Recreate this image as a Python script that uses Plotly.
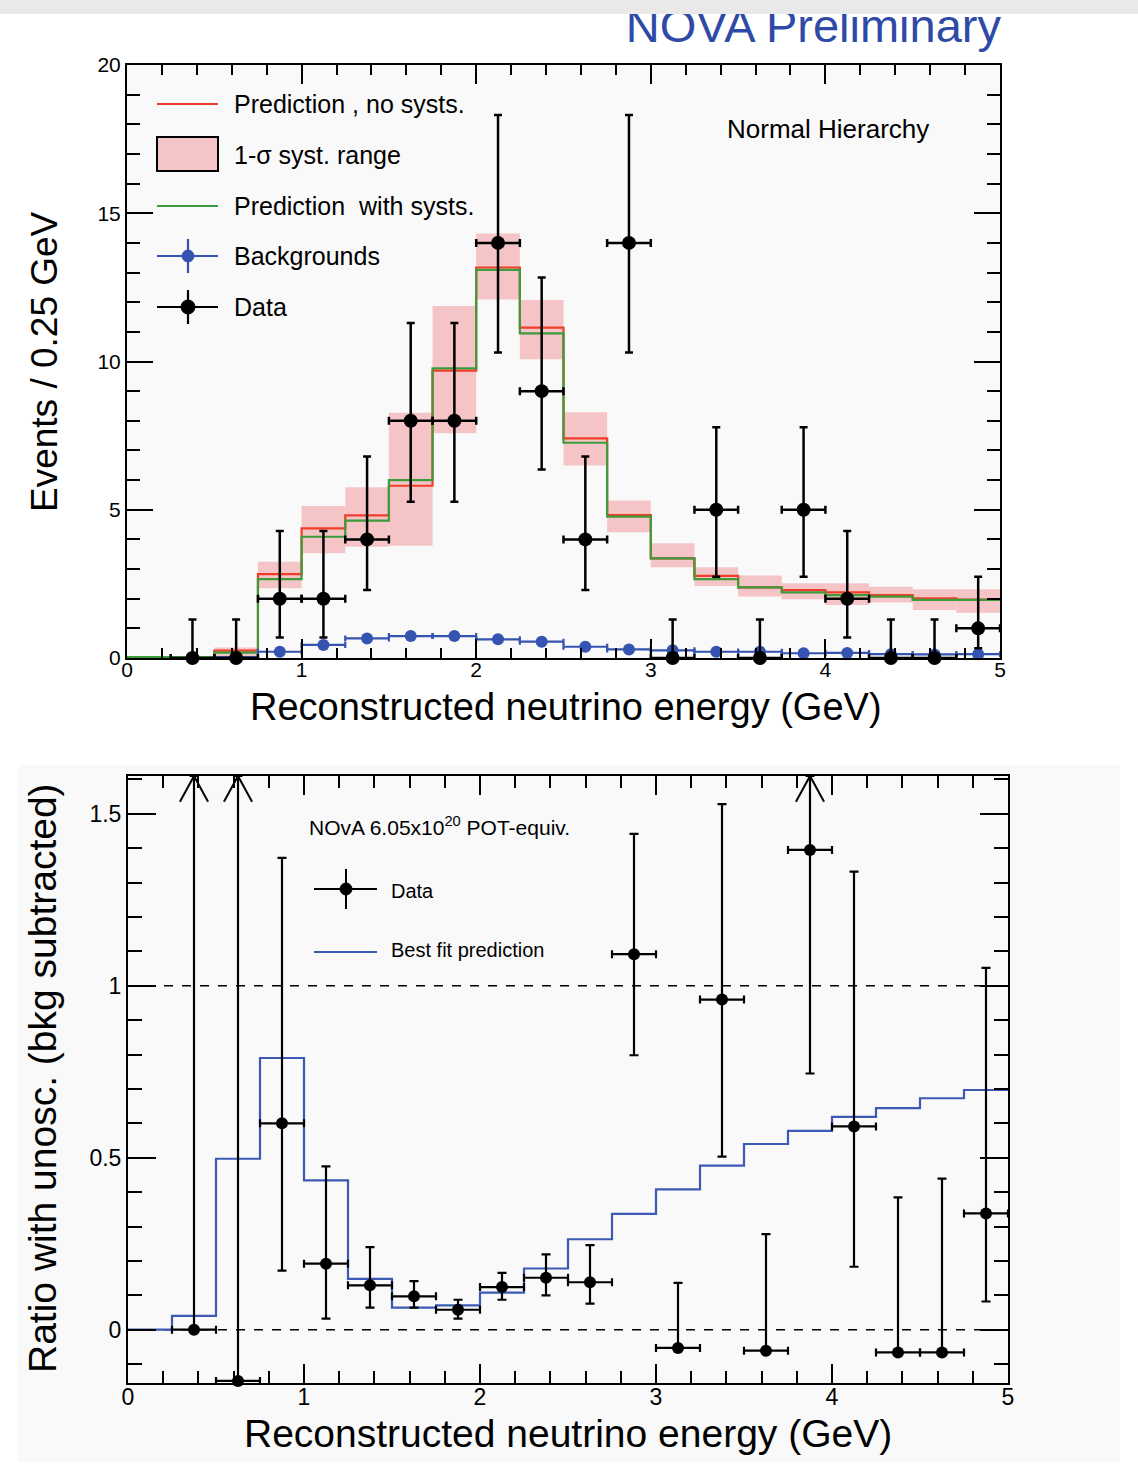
import plotly.graph_objects as go

W, H = 1138, 1472

# ---------------- data: top panel ----------------
bin_width = 0.25
bin_centers = [0.125, 0.375, 0.625, 0.875, 1.125, 1.375, 1.625, 1.875, 2.125, 2.375,
               2.625, 2.875, 3.125, 3.375, 3.625, 3.875, 4.125, 4.375, 4.625, 4.875]
pred_nosyst = [0.03, 0.03, 0.25, 2.83, 4.37, 4.81, 5.81, 9.69, 13.17, 11.14,
               7.41, 4.82, 3.36, 2.77, 2.38, 2.29, 2.21, 2.12, 2.01, 1.97]
pred_syst = [0.03, 0.03, 0.18, 2.66, 4.09, 4.63, 6.00, 9.77, 13.09, 10.95,
             7.26, 4.77, 3.36, 2.66, 2.38, 2.21, 2.12, 2.07, 1.96, 1.96]
syst_lo = [0.03, 0.03, 0.05, 2.35, 3.53, 3.75, 3.79, 7.58, 12.09, 10.08,
           6.49, 4.24, 3.06, 2.43, 2.07, 1.98, 1.79, 1.87, 1.62, 1.53]
syst_hi = [0.03, 0.03, 0.35, 3.25, 5.13, 5.76, 8.27, 11.87, 14.32, 12.07,
           8.29, 5.31, 3.87, 3.06, 2.78, 2.52, 2.52, 2.40, 2.32, 2.32]

bkg_x = [0.625, 0.875, 1.125, 1.375, 1.625, 1.875, 2.125, 2.375, 2.625,
         2.875, 3.125, 3.375, 3.625, 3.875, 4.125, 4.375, 4.625, 4.875]
bkg_vals = [0.03, 0.21, 0.44, 0.66, 0.74, 0.74, 0.63, 0.55, 0.38,
            0.29, 0.26, 0.21, 0.21, 0.16, 0.17, 0.13, 0.12, 0.13]

data_x = [0.375, 0.625, 0.875, 1.125, 1.375, 1.625, 1.875, 2.125, 2.375, 2.625,
          2.875, 3.125, 3.375, 3.625, 3.875, 4.125, 4.375, 4.625, 4.875]
data_counts = [0, 0, 2, 2, 4, 8, 8, 14, 9, 4, 14, 0, 5, 0, 5, 2, 0, 0, 1]
data_err_up = [1.3, 1.3, 2.28, 2.28, 2.8, 3.3, 3.3, 4.31, 3.83, 2.8,
               4.31, 1.3, 2.78, 1.3, 2.78, 2.28, 1.3, 1.3, 1.74]
data_err_dn = [0, 0, 1.31, 1.31, 1.71, 2.73, 2.73, 3.7, 2.64, 1.71,
               3.7, 0, 2.26, 0, 2.26, 1.31, 0, 0, 0.67]

# ---------------- data: bottom panel ----------------
best_fit = [0.0, 0.04, 0.497, 0.79, 0.434, 0.148, 0.064, 0.071, 0.108, 0.178,
            0.263, 0.337, 0.408, 0.477, 0.540, 0.578, 0.619, 0.644, 0.673, 0.697]
ratio_x = data_x
ratio_vals = [0.0, -0.149, 0.60, 0.192, 0.129, 0.097, 0.058, 0.124, 0.151, 0.138,
              1.092, -0.053, 0.96, -0.061, 1.395, 0.591, -0.066, -0.066, 0.338]
# upper / lower edges of the error bars (None = arrow off the top of the plot)
ratio_hi = [None, None, 1.372, 0.475, 0.24, 0.141, 0.087, 0.165, 0.219, 0.246,
            1.442, 0.136, 1.528, 0.278, None, 1.332, 0.385, 0.439, 1.052]
ratio_lo = [0.0, -0.149, 0.172, 0.032, 0.064, 0.064, 0.032, 0.087, 0.100, 0.076,
            0.798, -0.053, 0.503, -0.061, 0.745, 0.183, -0.066, -0.066, 0.082]

X_RANGE = [0, 5]
Y1_RANGE = [0, 20]
Y2_RANGE = [-0.155, 1.61]

RED = "#f03c28"
GREEN = "#3c9c3c"
PINK = "#f5c4c6"
BLUE = "#3553b0"
BLUE2 = "#3c5ab4"
BG = "#f9f9f9"
FONT = "Liberation Sans, Arial, sans-serif"


def px_x(p):
    return p / W


def px_y(p):
    return 1 - p / H


edges = [c - bin_width / 2 for c in bin_centers] + [bin_centers[-1] + bin_width / 2]


def step(vals):
    return list(vals) + [vals[-1]]


fig = go.Figure()

# ---- top panel ----
fig.add_trace(go.Bar(
    x=bin_centers, y=[h - l for h, l in zip(syst_hi, syst_lo)], base=syst_lo,
    width=bin_width, marker=dict(color=PINK, line=dict(width=0)),
    xaxis="x", yaxis="y", showlegend=False, hoverinfo="skip"))
fig.add_trace(go.Scatter(
    x=edges, y=step(pred_nosyst), mode="lines",
    line=dict(color=RED, width=2.2, shape="hv"), xaxis="x", yaxis="y", showlegend=False))
fig.add_trace(go.Scatter(
    x=edges, y=step(pred_syst), mode="lines",
    line=dict(color=GREEN, width=2.2, shape="hv"), xaxis="x", yaxis="y", showlegend=False))
fig.add_trace(go.Scatter(
    x=bkg_x, y=bkg_vals, mode="markers",
    marker=dict(color=BLUE, size=12),
    error_x=dict(type="constant", value=bin_width / 2, color=BLUE, thickness=2.2, width=3),
    xaxis="x", yaxis="y", showlegend=False, cliponaxis=False))
fig.add_trace(go.Scatter(
    x=data_x, y=data_counts, mode="markers",
    marker=dict(color="black", size=14),
    error_x=dict(type="constant", value=bin_width / 2, color="black", thickness=2.5, width=4),
    error_y=dict(type="data", symmetric=False, array=data_err_up, arrayminus=data_err_dn,
                 color="black", thickness=2.5, width=4),
    xaxis="x", yaxis="y", showlegend=False, cliponaxis=False))

# ---- bottom panel ----
fig.add_trace(go.Scatter(
    x=edges, y=step(best_fit), mode="lines",
    line=dict(color=BLUE2, width=2.2, shape="hv"), xaxis="x2", yaxis="y2", showlegend=False))

r_up = [(Y2_RANGE[1] - v) if h is None else (h - v) for v, h in zip(ratio_vals, ratio_hi)]
r_dn = [v - l for v, l in zip(ratio_vals, ratio_lo)]
fig.add_trace(go.Scatter(
    x=ratio_x, y=ratio_vals, mode="markers",
    marker=dict(color="black", size=12),
    error_x=dict(type="constant", value=bin_width / 2, color="black", thickness=2.2, width=4),
    error_y=dict(type="data", symmetric=False, array=r_up, arrayminus=r_dn,
                 color="black", thickness=2.2, width=4.5),
    xaxis="x2", yaxis="y2", showlegend=False, cliponaxis=False))

# arrow heads for points whose error bar leaves the plot
ax_, ay_ = [], []
for xv, h in zip(ratio_x, ratio_hi):
    if h is None:
        ax_ += [xv - 0.08, xv, xv + 0.08, None]
        ay_ += [Y2_RANGE[1] - 0.075, Y2_RANGE[1], Y2_RANGE[1] - 0.075, None]
fig.add_trace(go.Scatter(x=ax_, y=ay_, mode="lines", line=dict(color="black", width=2),
                         xaxis="x2", yaxis="y2", showlegend=False, connectgaps=False))

# ---- page-pixel overlay for the slide title (so the top strip can cover it) ----
fig.add_trace(go.Scatter(
    x=[1001], y=[30], mode="text", text=["NOVA Preliminary"], textposition="middle left",
    textfont=dict(family=FONT, size=47, color="#2f4aa6"),
    xaxis="x3", yaxis="y3", showlegend=False, hoverinfo="skip", cliponaxis=False))

shapes = []
# top panel plot-area background
shapes.append(dict(type="rect", xref="x domain", yref="y domain", x0=0, x1=1, y0=0, y1=1,
                   fillcolor=BG, line=dict(width=0), layer="below"))
# bottom panel image background
shapes.append(dict(type="rect", xref="paper", yref="paper",
                   x0=px_x(18), x1=px_x(1120), y0=px_y(1462), y1=px_y(765),
                   fillcolor=BG, line=dict(width=0), layer="below"))
# dashed reference lines
for yv in (0, 1):
    shapes.append(dict(type="line", xref="x2 domain", yref="y2", x0=0, x1=1, y0=yv, y1=yv,
                       line=dict(color="black", width=1.6, dash="dash"), layer="below"))
# grey strip at the very top of the slide
shapes.append(dict(type="rect", xref="paper", yref="paper", x0=0, x1=1,
                   y0=px_y(14), y1=1.0, fillcolor="#e9e9e9", line=dict(width=0), layer="above"))

# ---- top legend (drawn) ----
LX0, LX1, LXM = 157, 218, 188
shapes.append(dict(type="line", xref="paper", yref="paper", x0=px_x(LX0), x1=px_x(LX1),
                   y0=px_y(104), y1=px_y(104), line=dict(color=RED, width=2)))
shapes.append(dict(type="rect", xref="paper", yref="paper", x0=px_x(LX0), x1=px_x(LX1),
                   y0=px_y(171), y1=px_y(137), fillcolor=PINK, line=dict(color="black", width=2)))
shapes.append(dict(type="line", xref="paper", yref="paper", x0=px_x(LX0), x1=px_x(LX1),
                   y0=px_y(206), y1=px_y(206), line=dict(color=GREEN, width=2)))
for yy, col, r in ((256, BLUE, 6), (307, "black", 7)):
    shapes.append(dict(type="line", xref="paper", yref="paper", x0=px_x(LX0), x1=px_x(LX1),
                       y0=px_y(yy), y1=px_y(yy), line=dict(color=col, width=2.2)))
    shapes.append(dict(type="line", xref="paper", yref="paper", x0=px_x(LXM), x1=px_x(LXM),
                       y0=px_y(yy - 17), y1=px_y(yy + 17), line=dict(color=col, width=2.2)))
    shapes.append(dict(type="circle", xref="paper", yref="paper",
                       x0=px_x(LXM - r), x1=px_x(LXM + r), y0=px_y(yy + r), y1=px_y(yy - r),
                       fillcolor=col, line=dict(color=col, width=1)))

# ---- bottom legend (drawn) ----
shapes.append(dict(type="line", xref="paper", yref="paper", x0=px_x(314), x1=px_x(377),
                   y0=px_y(889), y1=px_y(889), line=dict(color="black", width=2)))
shapes.append(dict(type="line", xref="paper", yref="paper", x0=px_x(346), x1=px_x(346),
                   y0=px_y(869), y1=px_y(909), line=dict(color="black", width=2)))
shapes.append(dict(type="circle", xref="paper", yref="paper",
                   x0=px_x(340), x1=px_x(352), y0=px_y(895), y1=px_y(883),
                   fillcolor="black", line=dict(color="black", width=1)))
shapes.append(dict(type="line", xref="paper", yref="paper", x0=px_x(314), x1=px_x(377),
                   y0=px_y(952), y1=px_y(952), line=dict(color=BLUE2, width=2)))

annotations = []


def txt(text, x, y, size, xanchor="left", color="black", angle=0, yanchor="middle"):
    annotations.append(dict(text=text, x=px_x(x), y=px_y(y), xref="paper", yref="paper",
                            xanchor=xanchor, yanchor=yanchor, showarrow=False, textangle=angle,
                            font=dict(family=FONT, size=size, color=color)))


txt("Prediction , no systs.", 232, 104, 25)
txt("1-σ syst. range", 232, 155, 25)
txt("Prediction  with systs.", 232, 206, 25)
txt("Backgrounds", 232, 256, 25)
txt("Data", 232, 307, 25)
txt("Normal Hierarchy", 725, 129, 26)
txt("Reconstructed neutrino energy (GeV)", 566, 707, 38, xanchor="center")
txt("Events / 0.25 GeV", 44, 362, 37, xanchor="center", angle=-90)

txt("NOvA 6.05x10<sup>20</sup> POT-equiv.", 307, 826, 21)
txt("Data", 389, 891, 20)
txt("Best fit prediction", 389, 950, 20)
txt("Reconstructed neutrino energy (GeV)", 568, 1433, 39, xanchor="center")
txt("Ratio with unosc. (bkg subtracted)", 42, 1078, 39, xanchor="center", angle=-90)


def axis_common(ticklen, minor_len, dtick, minor_dtick, fsize, standoff=0):
    return dict(showline=True, linecolor="black", linewidth=2, mirror="allticks",
                ticks="inside", ticklen=ticklen, tickwidth=2, tickcolor="black",
                dtick=dtick, tick0=0, showgrid=False, zeroline=False, automargin=False,
                ticklabelstandoff=standoff,
                tickfont=dict(family=FONT, size=fsize, color="black"),
                minor=dict(dtick=minor_dtick, ticklen=minor_len, ticks="inside",
                           tickwidth=2, tickcolor="black", showgrid=False))


fig.update_layout(
    width=W, height=H, autosize=False,
    margin=dict(l=0, r=0, t=0, b=0, pad=0),
    paper_bgcolor="white", plot_bgcolor="rgba(0,0,0,0)",
    barmode="overlay", showlegend=False,
    xaxis=dict(domain=[px_x(127), px_x(1000)], range=X_RANGE, anchor="y",
               **axis_common(19, 10, 1, 0.2, 21, standoff=-8)),
    yaxis=dict(domain=[px_y(658), px_y(65)], range=Y1_RANGE, anchor="x",
               **axis_common(26, 13, 5, 1, 21)),
    xaxis2=dict(domain=[px_x(128), px_x(1008)], range=X_RANGE, anchor="y2",
                **axis_common(19, 12, 1, 0.2, 23, standoff=-8)),
    yaxis2=dict(domain=[px_y(1383), px_y(776)], range=Y2_RANGE, anchor="x2",
                **axis_common(28, 14, 0.5, 0.1, 23)),
    xaxis3=dict(domain=[0, 1], range=[0, W], anchor="y3", visible=False, fixedrange=True),
    yaxis3=dict(domain=[0, 1], range=[H, 0], anchor="x3", visible=False, fixedrange=True),
    shapes=shapes, annotations=annotations,
)

fig.write_html("out.html")
